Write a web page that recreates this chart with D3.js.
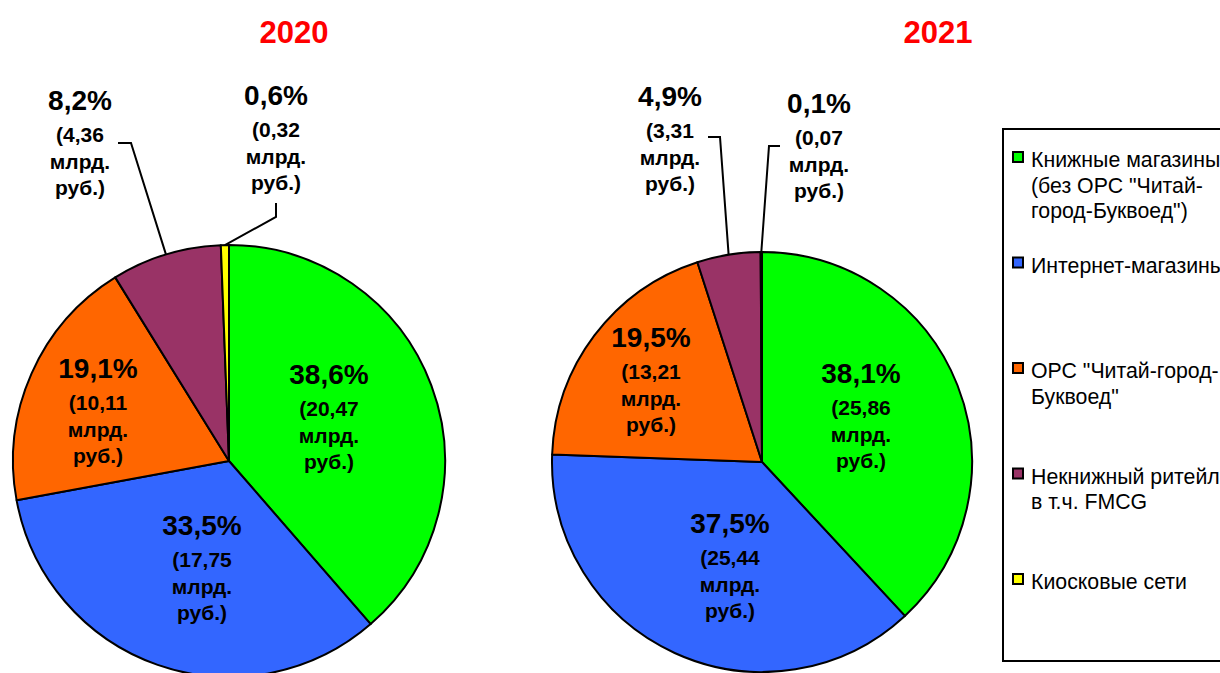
<!DOCTYPE html>
<html>
<head>
<meta charset="utf-8">
<script src="https://cdn.jsdelivr.net/npm/d3@7"></script>
<style>
  body { margin: 0; background: #fff; }
  svg { display: block; font-family: Arial, "Liberation Sans", sans-serif; }
</style>
</head>
<body>
<svg width="1220" height="673"></svg>
<script>
// data
var years = ['2020', '2021']
var categories = ['Книжные магазины (без ОРС "Читай-город-Буквоед")', 'Интернет-магазины', 'ОРС "Читай-город-Буквоед"', 'Некнижный ритейл в т.ч. FMCG', 'Киосковые сети']
var values2020 = [20.47, 17.75, 10.11, 4.36, 0.32]
var values2021 = [25.86, 25.44, 13.21, 3.31, 0.07]
var legendLines = [['Книжные магазины', '(без ОРС "Читай-', 'город-Буквоед")'], ['Интернет-магазины'], ['ОРС "Читай-город-', 'Буквоед"'], ['Некнижный ритейл', 'в т.ч. FMCG'], ['Киосковые сети']]

var colors = ['#00ff00', '#3366ff', '#ff6600', '#993366', '#ffff00']

// layout for each pie
var pies = [
  { year: years[0], values: values2020, cx: 229, cy: 461, r: 216, titleX: 294,
    labels: [[329, 374], [202, 525], [98, 368], [80, 100], [276, 95]],
    // leader lines for small slices: [index, elbow, end]
    leaders: [[3, [131, 143], [118, 143]], [4, [276, 217], [276, 203]]] },
  { year: years[1], values: values2021, cx: 762, cy: 462, r: 210, titleX: 938,
    labels: [[861, 373], [730, 523], [651, 337], [670, 96], [819, 103]],
    leaders: [[3, [720, 137], [708, 137]], [4, [769, 146], [780, 146]]] }
]

var svg = d3.select('svg')
var fmtPct = d3.format('.1f'), fmtVal = d3.format('.2f')
function comma(s) { return s.replace('.', ',') }

var pie = d3.pie().sort(null).value(function(d) { return d })

pies.forEach(function(p) {
  var total = d3.sum(p.values)
  var arcs = pie(p.values)
  var arc = d3.arc().innerRadius(0).outerRadius(p.r)
  var edge = d3.arc().innerRadius(p.r).outerRadius(p.r)

  svg.append('text')
    .attr('x', p.titleX).attr('y', 43)
    .attr('text-anchor', 'middle')
    .attr('font-size', 31).attr('font-weight', 'bold')
    .attr('fill', '#ff0000')
    .text(p.year)

  var g = svg.append('g').attr('transform', 'translate(' + p.cx + ',' + p.cy + ')')
  g.selectAll('path')
    .data(arcs)
    .enter().append('path')
      .attr('d', arc)
      .attr('fill', function(d, i) { return colors[i] })
      .attr('stroke', '#000')
      .attr('stroke-width', 2)
      .attr('stroke-linejoin', 'round')

  // leader lines
  p.leaders.forEach(function(l) {
    var c = edge.centroid(arcs[l[0]])
    var pts = [[c[0] + p.cx, c[1] + p.cy], l[1], l[2]]
    svg.append('path')
      .attr('d', d3.line()(pts))
      .attr('fill', 'none')
      .attr('stroke', '#000')
      .attr('stroke-width', 2)
  })

  // labels
  arcs.forEach(function(d, i) {
    var pos = p.labels[i]
    var t = svg.append('text')
      .attr('text-anchor', 'middle')
      .attr('font-weight', 'bold')
      .attr('fill', '#000')
    t.append('tspan').attr('x', pos[0]).attr('y', pos[1] + 10).attr('font-size', 28)
      .text(comma(fmtPct(d.value / total * 100)) + '%')
    t.append('tspan').attr('x', pos[0]).attr('y', pos[1] + 42).attr('font-size', 21)
      .text('(' + comma(fmtVal(d.value)))
    t.append('tspan').attr('x', pos[0]).attr('y', pos[1] + 69).attr('font-size', 21)
      .text('млрд.')
    t.append('tspan').attr('x', pos[0]).attr('y', pos[1] + 95).attr('font-size', 21)
      .text('руб.)')
  })
})

// legend
var legend = svg.append('g')
legend.append('rect')
  .attr('x', 1003).attr('y', 129).attr('width', 240).attr('height', 532)
  .attr('fill', '#fff').attr('stroke', '#000').attr('stroke-width', 2)

var item = legend.selectAll('.item')
  .data(categories)
  .enter().append('g')
    .attr('class', 'item')
    .attr('transform', function(d, i) { return 'translate(0,' + (167 + i * 105.5) + ')' })

item.append('rect')
  .attr('x', 1013).attr('y', -15).attr('width', 10).attr('height', 10)
  .attr('fill', function(d, i) { return colors[i] })
  .attr('stroke', '#000').attr('stroke-width', 2)

item.append('text')
  .attr('font-size', 21.3)
  .attr('fill', '#000')
  .selectAll('tspan')
  .data(function(d, i) { return legendLines[i] })
  .enter().append('tspan')
    .attr('x', 1031)
    .attr('y', function(d, j) { return j * 25.5 })
    .text(function(d) { return d })
</script>
</body>
</html>
